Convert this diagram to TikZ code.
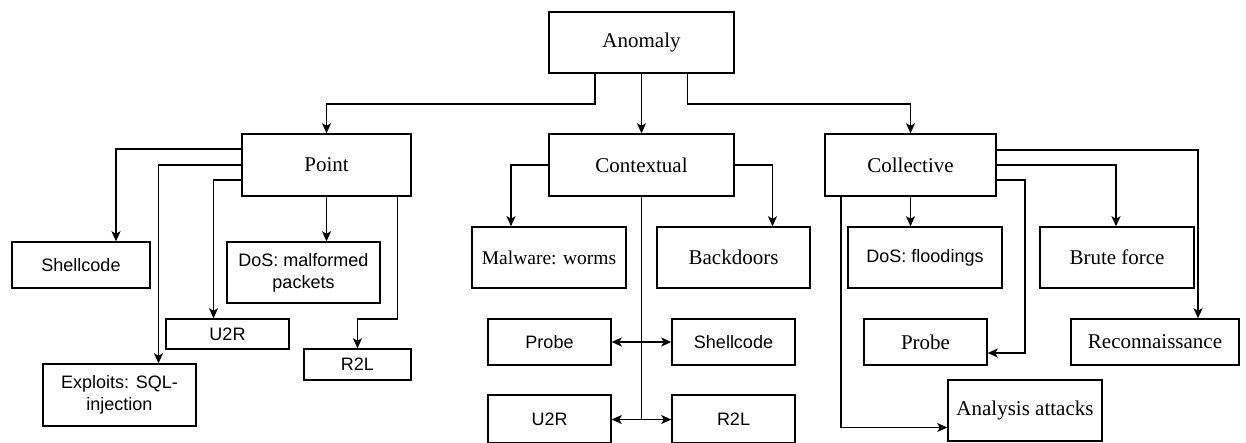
\documentclass[tikz,border=0pt]{standalone}
\usepackage{fontspec}
\setmainfont{Liberation Serif}
\newfontfamily\arialfont{Liberation Sans}
\usetikzlibrary{arrows.meta}

\tikzset{
  box/.style={draw=black, line width=1.5pt, fill=white, inner sep=2pt,
              align=center, font=\fontsize{21}{25}\selectfont},
  sbox/.style={box, font=\arialfont\fontsize{18}{22}\selectfont},
  arr/.style={draw=black, line width=1.5pt,
              -{Stealth[length=10pt,width=9pt,inset=2.5pt]}},
  plain/.style={draw=black, line width=1.5pt},
}

\begin{document}
\begin{tikzpicture}[x=1pt,y=-1pt]
\useasboundingbox (0,0) rectangle (1246,442);

% root and first level
\node[box, minimum width=185pt, minimum height=61pt] (anomaly) at (641.5,42.5) {Anomaly};
\node[box, minimum width=169pt, minimum height=62pt] (point) at (326.5,165) {Point};
\node[box, minimum width=185pt, minimum height=62pt] (contextual) at (641.5,165) {Contextual};
\node[box, minimum width=171pt, minimum height=62pt] (collective) at (910.5,165) {Collective};

% point anomalies
\node[sbox, minimum width=138pt, minimum height=46pt] (shellA) at (81,265) {Shellcode};
\node[sbox, minimum width=153pt, minimum height=61pt] (dosA) at (303.5,272.5) {DoS: malformed\\packets};
\node[sbox, minimum width=123pt, minimum height=30pt] (u2rA) at (227.5,334) {U2R};
\node[sbox, minimum width=107pt, minimum height=31pt] (r2lA) at (357.5,364.5) {R2L};
\node[sbox, minimum width=153pt, minimum height=62pt] (exploits) at (119.5,395) {Exploits: SQL-\\injection};

% contextual anomalies
\node[box, minimum width=154pt, minimum height=61pt, font=\fontsize{19.5}{23}\selectfont] (malware) at (549,257.5) {Malware: worms};
\node[box, minimum width=153pt, minimum height=61pt] (backdoors) at (733.5,257.5) {Backdoors};
\node[sbox, minimum width=123pt, minimum height=46pt] (probeB) at (549.5,342) {Probe};
\node[sbox, minimum width=123pt, minimum height=46pt] (shellB) at (733.5,342) {Shellcode};
\node[sbox, minimum width=123pt, minimum height=48pt] (u2rB) at (549.5,419) {U2R};
\node[sbox, minimum width=123pt, minimum height=48pt] (r2lB) at (733.5,419) {R2L};

% collective anomalies
\node[sbox, minimum width=154pt, minimum height=61pt] (dosC) at (925,257.5) {DoS: floodings};
\node[box, minimum width=154pt, minimum height=61pt] (brute) at (1117,257.5) {Brute force};
\node[box, minimum width=123pt, minimum height=46pt] (probeC) at (925.5,342) {Probe};
\node[box, minimum width=168pt, minimum height=46pt] (recon) at (1155,342) {Reconnaissance};
\node[box, minimum width=154pt, minimum height=61pt] (analysis) at (1025,410.5) {Analysis attacks};

% root to first level
\draw[arr] ([xshift=-46.5pt]anomaly.south) -- ++(0,30) -| (point.north);
\draw[arr] (anomaly.south) -- (contextual.north);
\draw[arr] ([xshift=46pt]anomaly.south) -- ++(0,30) -| (collective.north);

% point branches
\draw[arr] ([yshift=16pt]point.west) -| ([xshift=35pt]shellA.north);
\draw[arr] (point.west) -| ([xshift=39pt]exploits.north);
\draw[arr] ([yshift=-15pt]point.west) -| ([xshift=-14pt]u2rA.north);
\draw[arr] (point.south) -- (point.south |- dosA.north);
\draw[arr] ([xshift=71pt]point.south) -- ++(0,122) -| (r2lA.north);

% contextual branches
\draw[arr] (contextual.west) -| ([xshift=-38pt]malware.north);
\draw[arr] (contextual.east) -| ([xshift=39pt]backdoors.north);
\coordinate (trunk) at ([yshift=-0.5pt]contextual.south |- u2rB.east);
\draw[plain] (contextual.south) -- (trunk);
\draw[arr] (contextual.south |- probeB.east) -- (probeB.east);
\draw[arr] (contextual.south |- shellB.west) -- (shellB.west);
\draw[arr] (trunk) -- (trunk -| u2rB.east);
\draw[arr] (trunk) -- (trunk -| r2lB.west);

% collective branches
\draw[arr] ([yshift=15pt]collective.east) -| ([xshift=43pt]recon.north);
\draw[arr] (collective.east) -| ([xshift=-1pt]brute.north);
\draw[arr] ([yshift=-15pt]collective.east) -- ++(28,0) |- ([yshift=-11pt]probeC.east);
\draw[arr] (collective.south) -- (collective.south |- dosC.north);
\draw[arr] ([xshift=-69.5pt]collective.south) |- ([yshift=-17pt]analysis.west);
\end{tikzpicture}
\end{document}
